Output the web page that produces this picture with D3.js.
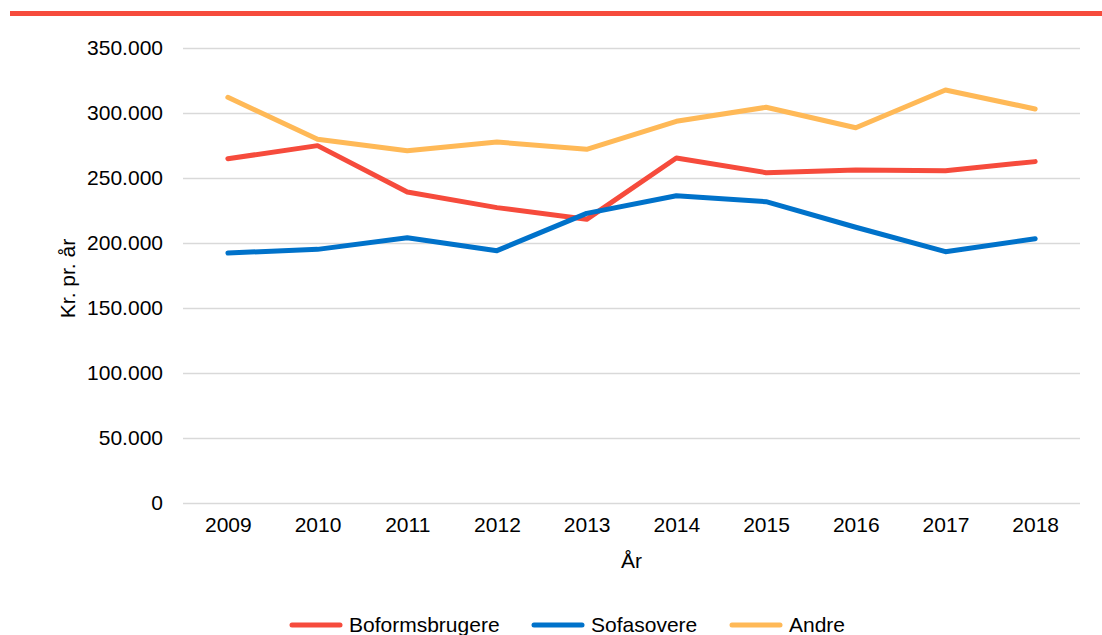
<!DOCTYPE html>
<html>
<head>
<meta charset="utf-8">
<script src="https://cdn.jsdelivr.net/npm/d3@7"></script>
<style>
  body { margin: 0; background: #fff; }
  svg { display: block; font-family: "Liberation Sans", Arial, sans-serif; }
</style>
</head>
<body>
<div id="chart"></div>
<script>
// data
const years = ['2009', '2010', '2011', '2012', '2013', '2014', '2015', '2016', '2017', '2018'];
const boformsbrugere = [264800, 274900, 239200, 227200, 218200, 265400, 254100, 256200, 255600, 262600];
const sofasovere = [192300, 195100, 204100, 194100, 222800, 236400, 231800, 212100, 193300, 203300];
const andre = [312100, 279800, 271000, 277700, 272100, 293600, 304400, 288700, 317700, 303100];
const yTicks = [0, 50000, 100000, 150000, 200000, 250000, 300000, 350000];

const series = [
    { name: 'Boformsbrugere', values: boformsbrugere, color: '#F64B3C' },
    { name: 'Sofasovere', values: sofasovere, color: '#0072CA' },
    { name: 'Andre', values: andre, color: '#FFB957' }
];

//dimensions
const width = 1102, height = 635;
const margin = { top: 48, right: 22, bottom: 132, left: 183 };
const graphWidth = width - margin.left - margin.right;
const graphHeight = height - margin.top - margin.bottom;

const svg = d3.select('#chart')
    .append('svg')
    .attr('width', width)
    .attr('height', height);

// red band on top
svg.append('rect')
    .attr('x', 10)
    .attr('y', 11)
    .attr('width', width - 10)
    .attr('height', 5)
    .attr('fill', '#F64B3C');

const graph = svg.append('g')
    .attr('transform', `translate(${margin.left}, ${margin.top})`);

//scales
const x = d3.scalePoint().domain(years).range([0, graphWidth]).padding(0.5);
const y = d3.scaleLinear().domain([0, 350000]).range([graphHeight, 0]);

const fmt = d => d === 0 ? '0' : d3.format(',')(d).replace(/,/g, '.');

// y axis with gridlines
const yAxisGroup = graph.append('g')
    .call(d3.axisLeft(y).tickValues(yTicks).tickSize(-graphWidth).tickFormat(fmt));
yAxisGroup.select('.domain').remove();
yAxisGroup.selectAll('.tick line')
    .attr('stroke', '#D9D9D9')
    .attr('stroke-width', 1.5);
yAxisGroup.selectAll('.tick text')
    .attr('x', -20)
    .attr('fill', '#000')
    .style('font-size', '21px');

// x axis
const xAxisGroup = graph.append('g')
    .attr('transform', `translate(0, ${graphHeight})`)
    .call(d3.axisBottom(x).tickSize(0));
xAxisGroup.select('.domain').remove();
xAxisGroup.selectAll('.tick text')
    .attr('y', 14)
    .attr('fill', '#000')
    .style('font-size', '21px');

// lines
const line = d3.line()
    .x((d, i) => x(years[i]))
    .y(d => y(d));

graph.selectAll('.series')
    .data(series)
    .enter()
    .append('path')
    .attr('class', 'series')
    .attr('d', d => line(d.values))
    .attr('fill', 'none')
    .attr('stroke', d => d.color)
    .attr('stroke-width', 5)
    .attr('stroke-linecap', 'round')
    .attr('stroke-linejoin', 'round');

// axis titles
svg.append('text')
    .attr('transform', `translate(75, ${margin.top + graphHeight / 2 + 3}) rotate(-90)`)
    .attr('text-anchor', 'middle')
    .style('font-size', '21px')
    .text('Kr. pr. år');

svg.append('text')
    .attr('x', margin.left + graphWidth / 2)
    .attr('y', 568)
    .attr('text-anchor', 'middle')
    .style('font-size', '21px')
    .text('År');

// legend
const legendX = [290, 532, 730];
const legend = svg.selectAll('.legend')
    .data(series)
    .enter()
    .append('g')
    .attr('class', 'legend')
    .attr('transform', (d, i) => `translate(${legendX[i]}, 625)`);

legend.append('line')
    .attr('x1', 2).attr('x2', 50)
    .attr('stroke', d => d.color)
    .attr('stroke-width', 5)
    .attr('stroke-linecap', 'round');

legend.append('text')
    .attr('x', 59)
    .attr('y', 7)
    .style('font-size', '21px')
    .text(d => d.name);
</script>
</body>
</html>
